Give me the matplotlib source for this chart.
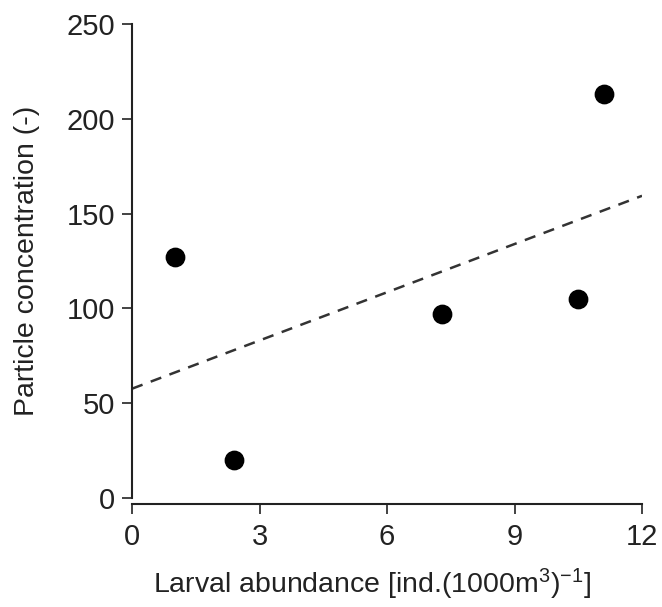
import matplotlib

matplotlib.use("Agg")
import matplotlib.pyplot as plt
import numpy as np

# values
larval_abundance = [1.0, 2.4, 7.3, 10.5, 11.1]
particle_conc = [127, 20, 97, 105, 213]
x_ticks = [0, 3, 6, 9, 12]
y_ticks = [0, 50, 100, 150, 200, 250]

plt.rcParams["font.family"] = ["Liberation Sans", "DejaVu Sans"]
plt.rcParams["mathtext.fontset"] = "custom"
plt.rcParams["mathtext.rm"] = "Liberation Sans"
plt.rcParams["mathtext.default"] = "regular"

text_color = "#222222"

fig = plt.figure(figsize=(6.62, 6.07), dpi=100)
ax = fig.add_axes([0.1994, 0.1796, 0.7704, 0.7809])

ax.scatter(larval_abundance, particle_conc, s=175, color="black", zorder=3)

# least squares line through the points
slope, intercept = np.polyfit(larval_abundance, particle_conc, 1)
fit_x = np.array([x_ticks[0], x_ticks[-1]])
ax.plot(fit_x, slope * fit_x + intercept, color="#333333", lw=1.8,
        dashes=(4.5, 3.5), zorder=2)

ax.set_xlim(0, 12)
ax.set_ylim(0, 250)
ax.set_xticks(x_ticks)
ax.set_yticks(y_ticks)

for side in ["top", "right"]:
    ax.spines[side].set_visible(False)
ax.spines["bottom"].set_position(("outward", 4))
for side in ["left", "bottom"]:
    ax.spines[side].set_linewidth(1.5)
    ax.spines[side].set_color("#222222")

ax.tick_params(axis="both", direction="out", length=7, width=1.2,
               color="#222222", labelsize=21, labelcolor=text_color, pad=5)
ax.tick_params(axis="x", pad=7)

ax.set_xlabel(r"Larval abundance [ind.(1000m$^{3}$)$^{-1}$]", fontsize=20.5,
              color=text_color)
ax.xaxis.set_label_coords(0.47, -0.145)
ax.set_ylabel("Particle concentration (-)", fontsize=20.5, color=text_color)
ax.yaxis.set_label_coords(-0.18, 0.5)

fig.savefig("out.png", dpi=100)
plt.close(fig)
